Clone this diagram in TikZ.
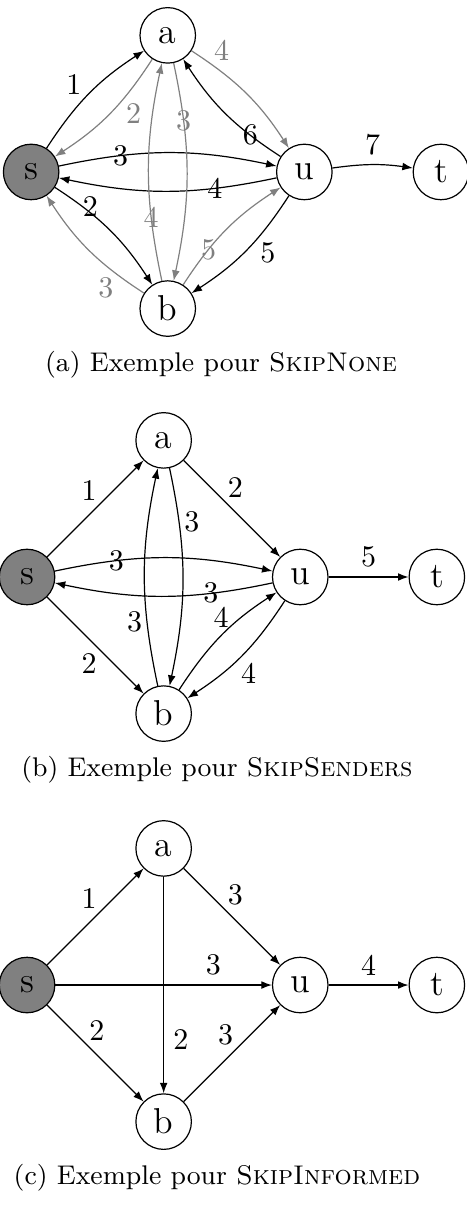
\documentclass[tikz,border=0pt]{standalone}
\usetikzlibrary{arrows.meta}

\begin{document}
\begin{tikzpicture}[x=1.6cm,y=1.6cm,
  vertex/.style={draw,circle,minimum size=18.5pt,inner sep=0pt,font=\large},
  src/.style={vertex,fill=gray},
  arc/.style={-{Latex[length=3.5pt,width=2.6pt]}},
  old/.style={arc,gray},
  lbl/.style={inner sep=1pt},
  wide/.style={inner sep=3pt},
  onedge/.style={inner sep=0pt},
  caption/.style={font=\small}]
  \useasboundingbox (-0.198,-4.773) rectangle (3.2135,4.224);

  % (a) SkipNone
  \begin{scope}[shift={(0.03,2.965)}]
    \node[src] (s1) at (0,0) {s};
    \node[vertex] (a1) at (1,1) {a};
    \node[vertex] (b1) at (1,-1) {b};
    \node[vertex] (u1) at (2,0) {u};
    \node[vertex] (t1) at (3,0) {t};
    \draw[arc] (s1) to[bend left=12] node[lbl,auto,pos=.45] {1} (a1);
    \draw[old] (a1) to[bend left=12] node[lbl,auto,pos=.35] {2} (s1);
    \draw[arc] (s1) to[bend left=12] node[onedge,pos=.27] {3} (u1);
    \draw[arc] (u1) to[bend left=12] node[onedge,pos=.27] {4} (s1);
    \draw[arc] (s1) to[bend left=12] node[onedge,pos=.3,yshift=2pt] {2} (b1);
    \draw[old] (b1) to[bend left=12] node[lbl,auto,pos=.22] {3} (s1);
    \draw[old] (b1) to[bend left=12] node[onedge,pos=.28] {4} (a1);
    \draw[old] (a1) to[bend left=12] node[onedge,pos=.25] {3} (b1);
    \draw[arc] (u1) to[bend left=12] node[onedge,pos=.25] {6} (a1);
    \draw[old] (a1) to[bend left=12] node[lbl,auto,pos=.15] {4} (u1);
    \draw[arc] (u1) to[bend left=12] node[lbl,auto,pos=.38] {5} (b1);
    \draw[old] (b1) to[bend left=12] node[onedge,pos=.3] {5} (u1);
    \draw[arc] (u1) to[bend left=8] node[wide,above] {7} (t1);
    \node[caption] (capa) at (1.39,-1.41) {(a) Exemple pour \textsc{SkipNone}};
  \end{scope}

  % (b) SkipSenders
  \begin{scope}
    \node[src] (s2) at (0,0) {s};
    \node[vertex] (a2) at (1,1) {a};
    \node[vertex] (b2) at (1,-1) {b};
    \node[vertex] (u2) at (2,0) {u};
    \node[vertex] (t2) at (3,0) {t};
    \draw[arc] (s2) -- node[lbl,auto,pos=.55] {1} (a2);
    \draw[arc] (a2) -- node[lbl,auto,pos=.42] {2} (u2);
    \draw[arc] (s2) to[bend left=12] node[onedge,pos=.27] {3} (u2);
    \draw[arc] (u2) to[bend left=12] node[onedge,pos=.27] {3} (s2);
    \draw[arc] (b2) to[bend left=12] node[lbl,auto,pos=.35] {3} (a2);
    \draw[arc] (a2) to[bend left=12] node[lbl,auto,pos=.3] {3} (b2);
    \draw[arc] (s2) -- node[lbl,auto,swap,pos=.55] {2} (b2);
    \draw[arc] (b2) to[bend left=12] node[onedge,auto,pos=.58] {4} (u2);
    \draw[arc] (u2) to[bend left=12] node[lbl,auto,pos=.55] {4} (b2);
    \draw[arc] (u2) -- node[wide,above] {5} (t2);
    \node[caption] (capb) at (1.39,-1.41) {(b) Exemple pour \textsc{SkipSenders}};
  \end{scope}

  % (c) SkipInformed
  \begin{scope}[shift={(0,-2.987)}]
    \node[src] (s3) at (0,0) {s};
    \node[vertex] (a3) at (1,1) {a};
    \node[vertex] (b3) at (1,-1) {b};
    \node[vertex] (u3) at (2,0) {u};
    \node[vertex] (t3) at (3,0) {t};
    \draw[arc] (s3) -- node[lbl,auto,pos=.55] {1} (a3);
    \draw[arc] (a3) -- node[lbl,auto,pos=.42] {3} (u3);
    \draw[arc] (s3) -- node[wide,above,pos=.73] {3} (u3);
    \draw[arc] (u3) -- node[wide,above] {4} (t3);
    \draw[arc] (s3) -- node[lbl,auto,pos=.4] {2} (b3);
    \draw[arc] (a3) -- node[wide,auto,pos=.75] {2} (b3);
    \draw[arc] (b3) -- node[lbl,auto,pos=.55] {3} (u3);
    \node[caption] (capc) at (1.39,-1.41) {(c) Exemple pour \textsc{SkipInformed}};
  \end{scope}
\end{tikzpicture}
\end{document}
